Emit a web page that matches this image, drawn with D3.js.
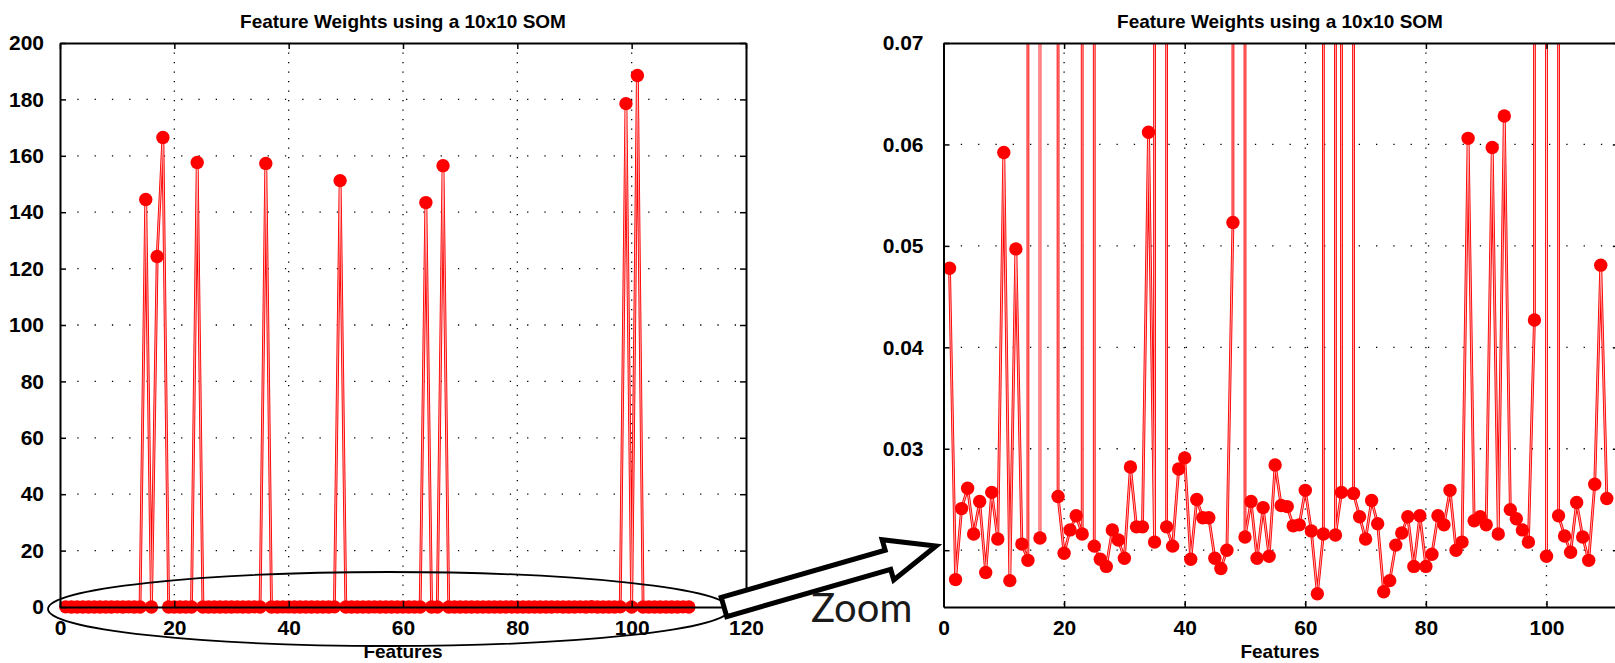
<!DOCTYPE html>
<html>
<head>
<meta charset="utf-8">
<script src="https://cdn.jsdelivr.net/npm/d3@7"></script>
<style>
  body { margin: 0; background: #fff; }
  svg { display: block; }
</style>
</head>
<body>
<div id="chart"></div>
<script>
// feature number of the first weight
var firstFeature = 1;

// SOM weight of each feature (1..110)
var weights = [
  0.0478, 0.0171, 0.0241, 0.0261, 0.0216, 0.0248, 0.0178, 0.0257, 0.0211, 0.0592,
  0.0170, 0.0497, 0.0206, 0.0190, 144.5,  0.0212, 124.3,  166.5,  0.0253, 0.0197,
  0.0220, 0.0234, 0.0216, 157.6,  0.0204, 0.0191, 0.0184, 0.0220, 0.0210, 0.0192,
  0.0282, 0.0223, 0.0223, 0.0612, 0.0208, 157.3,  0.0223, 0.0204, 0.0280, 0.0291,
  0.0191, 0.0250, 0.0232, 0.0232, 0.0192, 0.0182, 0.0200, 0.0523, 151.2,  0.0213,
  0.0248, 0.0192, 0.0242, 0.0194, 0.0284, 0.0244, 0.0243, 0.0224, 0.0225, 0.0259,
  0.0219, 0.0157, 0.0216, 143.4,  0.0215, 0.0257, 156.5,  0.0256, 0.0233, 0.0211,
  0.0249, 0.0226, 0.0159, 0.0170, 0.0205, 0.0217, 0.0233, 0.0184, 0.0234, 0.0184,
  0.0196, 0.0234, 0.0225, 0.0259, 0.0200, 0.0208, 0.0606, 0.0229, 0.0233, 0.0225,
  0.0597, 0.0216, 0.0628, 0.0240, 0.0231, 0.0220, 0.0208, 0.0427, 178.5,  0.0194,
  188.5,  0.0234, 0.0214, 0.0198, 0.0247, 0.0213, 0.0190, 0.0265, 0.0481, 0.0251
];

var chartTitle = "Feature Weights using a 10x10 SOM";
var xLabel = "Features";
var zoomLabel = "Zoom";

var fullXTicks = [0, 20, 40, 60, 80, 100, 120];
var fullYTicks = [0, 20, 40, 60, 80, 100, 120, 140, 160, 180, 200];
var zoomXTicks = [0, 20, 40, 60, 80, 100];
var zoomYTicks = [0.02, 0.03, 0.04, 0.05, 0.06, 0.07];

var labelFont = "'Liberation Sans', Arial, sans-serif";

var svg = d3.select("#chart").append("svg")
    .attr("width", 1615)
    .attr("height", 663);

svg.append("rect")
    .attr("width", 1615)
    .attr("height", 663)
    .attr("fill", "#fff");

var points = weights.map(function(w, i) {
    return { f: firstFeature + i, w: w };
});

function drawPanel(p) {
    var x = d3.scaleLinear().domain(p.xDomain).range([p.left, p.right]);
    var y = d3.scaleLinear().domain(p.yDomain).range([p.bottom, p.top]);
    var g = svg.append("g");

    // dotted grid
    g.selectAll(".hgrid")
        .data(p.yGrid)
        .enter().append("line")
        .attr("x1", p.left).attr("x2", p.right)
        .attr("y1", function(d) { return y(d); })
        .attr("y2", function(d) { return y(d); })
        .attr("stroke", "#000")
        .attr("stroke-width", 1.3)
        .attr("stroke-dasharray", "1.3,16");

    g.selectAll(".vgrid")
        .data(p.xGrid)
        .enter().append("line")
        .attr("y1", p.top).attr("y2", p.bottom)
        .attr("x1", function(d) { return x(d); })
        .attr("x2", function(d) { return x(d); })
        .attr("stroke", "#000")
        .attr("stroke-width", 1.3)
        .attr("stroke-dasharray", "1.3,8.2");

    // data
    var clipId = "clip" + p.id;
    svg.append("clipPath").attr("id", clipId)
        .append("rect")
        .attr("x", p.left).attr("y", p.top)
        .attr("width", p.right - p.left).attr("height", p.bottom - p.top);

    var dataG = g.append("g");
    if (p.clip) dataG.attr("clip-path", "url(#" + clipId + ")");

    var line = d3.line()
        .x(function(d) { return x(d.f); })
        .y(function(d) { return y(d.w); });

    dataG.append("path")
        .datum(points)
        .attr("d", line)
        .attr("fill", "none")
        .attr("stroke", "#ff0000")
        .attr("stroke-width", 2.8);

    dataG.append("path")
        .datum(points)
        .attr("d", line)
        .attr("fill", "none")
        .attr("stroke", "#ffd0d0")
        .attr("stroke-width", 0.8);

    dataG.selectAll(".dot")
        .data(points)
        .enter().append("circle")
        .attr("cx", function(d) { return x(d.f); })
        .attr("cy", function(d) { return y(d.w); })
        .attr("r", 6.7)
        .attr("fill", "#ff0000");

    // axes, ticks on all four sides pointing in
    var bottomAxis = g.append("g")
        .attr("transform", "translate(0," + p.bottom + ")")
        .call(d3.axisBottom(x).tickValues(p.xTicks).tickSize(-6).tickSizeOuter(0)
            .tickPadding(13).tickFormat(d3.format("d")));
    g.append("g")
        .attr("transform", "translate(0," + p.top + ")")
        .call(d3.axisTop(x).tickValues(p.xTicks).tickSize(-6).tickSizeOuter(0)
            .tickFormat(""));
    var leftAxis = g.append("g")
        .attr("transform", "translate(" + p.left + ",0)")
        .call(d3.axisLeft(y).tickValues(p.yTicks).tickSize(-6).tickSizeOuter(0)
            .tickPadding(p.yPad).tickFormat(p.yFormat));
    g.append("g")
        .attr("transform", "translate(" + p.right + ",0)")
        .call(d3.axisRight(y).tickValues(p.yTicks).tickSize(-6).tickSizeOuter(0)
            .tickFormat(""));

    g.selectAll(".domain").attr("stroke", "#000").attr("stroke-width", 2);
    g.selectAll(".tick line").attr("stroke", "#000").attr("stroke-width", 1.5);

    [bottomAxis, leftAxis].forEach(function(a) {
        a.attr("font-family", labelFont)
            .attr("font-size", 21)
            .attr("font-weight", "bold");
        a.selectAll("text").attr("fill", "#000");
    });

    // title and x label
    var cx = (p.left + p.right) / 2;
    svg.append("text")
        .attr("x", p.titleX || cx)
        .attr("y", 28)
        .attr("text-anchor", "middle")
        .attr("font-family", labelFont)
        .attr("font-size", 19)
        .attr("font-weight", "bold")
        .text(chartTitle);

    svg.append("text")
        .attr("x", p.titleX || cx)
        .attr("y", 658)
        .attr("text-anchor", "middle")
        .attr("font-family", labelFont)
        .attr("font-size", 19)
        .attr("font-weight", "bold")
        .text(xLabel);
}

// left: full range
drawPanel({
    id: "full",
    left: 60, right: 746, top: 43, bottom: 607,
    xDomain: [0, 120], yDomain: [0, 200],
    xTicks: fullXTicks, yTicks: fullYTicks,
    xGrid: [20, 40, 60, 80, 100],
    yGrid: [20, 40, 60, 80, 100, 120, 140, 160, 180],
    yPad: 16, yFormat: d3.format("d"),
    clip: false
});

// right: zoom on the small weights
drawPanel({
    id: "zoom",
    left: 943.5, right: 943.5 + 112 * 6.03, top: 43, bottom: 607,
    xDomain: [0, 112], yDomain: [0.0144, 0.07],
    xTicks: zoomXTicks, yTicks: zoomYTicks,
    xGrid: [20, 40, 60, 80, 100],
    yGrid: [0.02, 0.03, 0.04, 0.05, 0.06],
    yPad: 20, yFormat: d3.format(".2f"),
    titleX: 1280,
    clip: true
});

// annotation: ellipse round the base of the left plot
svg.append("ellipse")
    .attr("cx", 389)
    .attr("cy", 609)
    .attr("rx", 341)
    .attr("ry", 37)
    .attr("fill", "none")
    .attr("stroke", "#000")
    .attr("stroke-width", 1.8);

// block arrow pointing to the zoomed plot
var tail = [724, 607], tip = [936, 546];
var dx = tip[0] - tail[0], dy = tip[1] - tail[1];
var len = Math.sqrt(dx * dx + dy * dy);
var u = [dx / len, dy / len], n = [-u[1], u[0]];
var shaftW = 10, headW = 21, headL = 50;
var base = [tip[0] - headL * u[0], tip[1] - headL * u[1]];
function off(pt, k) { return [pt[0] + k * n[0], pt[1] + k * n[1]]; }
var arrowPts = [
    off(tail, -shaftW), off(base, -shaftW), off(base, -headW), tip,
    off(base, headW), off(base, shaftW), off(tail, shaftW)
];
svg.append("polygon")
    .attr("points", arrowPts.map(function(q) { return q.join(","); }).join(" "))
    .attr("fill", "#fff")
    .attr("stroke", "#000")
    .attr("stroke-width", 5)
    .attr("stroke-linejoin", "miter");

svg.append("text")
    .attr("x", 811)
    .attr("y", 622)
    .attr("font-family", "Lato, 'Open Sans', sans-serif")
    .attr("font-size", 40)
    .attr("fill", "#1a1a1a")
    .text(zoomLabel);
</script>
</body>
</html>
